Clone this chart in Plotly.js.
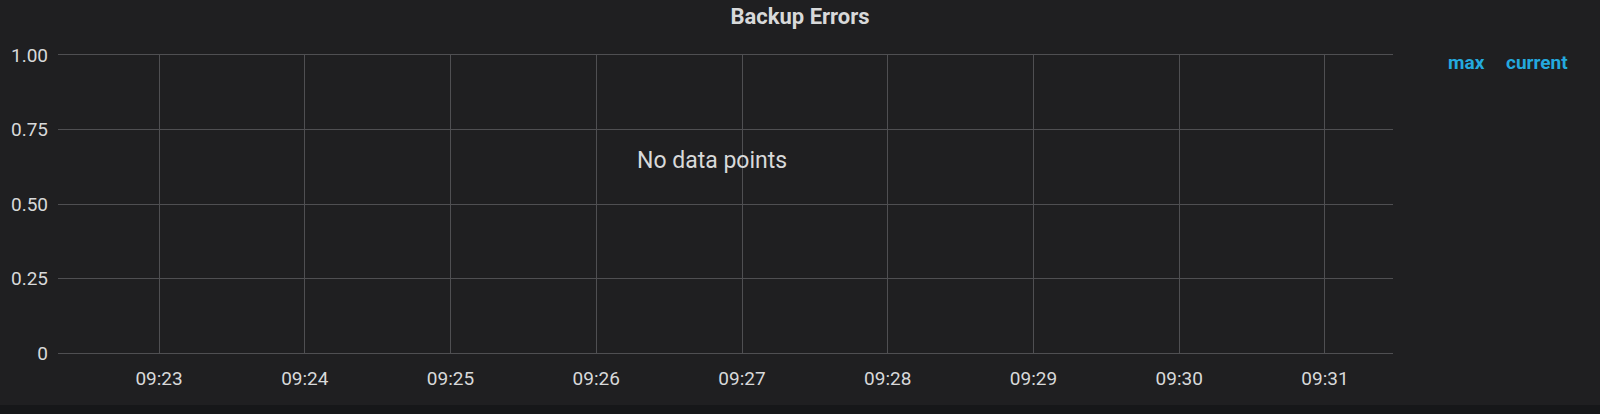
<!DOCTYPE html>
<html>
<head>
<meta charset="utf-8">
<script src="https://cdn.plot.ly/plotly-3.0.1.min.js"></script>
<style>
  html, body { margin: 0; padding: 0; background: #161719; }
  #chart { width: 1600px; height: 405px; }
</style>
</head>
<body>
<div id="chart"></div>
<script>
// ---- data ----
const chartTitle = "Backup Errors";
const seriesTimes = [];      // no data points in this panel
const seriesValues = [];
const xRange = ["2024-01-01 09:22:18.4", "2024-01-01 09:31:28"];
const xTickVals = ["2024-01-01 09:23", "2024-01-01 09:24", "2024-01-01 09:25", "2024-01-01 09:26",
                   "2024-01-01 09:27", "2024-01-01 09:28", "2024-01-01 09:29", "2024-01-01 09:30",
                   "2024-01-01 09:31"];
const xTickText = ["09:23", "09:24", "09:25", "09:26", "09:27", "09:28", "09:29", "09:30", "09:31"];
const yTickVals = [0, 0.25, 0.5, 0.75, 1];
const yTickText = ["0", "0.25", "0.50", "0.75", "1.00"];
const legendHeaders = ["max", "current"];
const emptyMessage = "No data points";

const bg = "#1f1f21";
const grid = "#4f4f52";
const textCol = "#d8d9da";
const legendCol = "#24a9de";

const data = [{
  type: "scatter",
  mode: "lines",
  x: seriesTimes,
  y: seriesValues,
  showlegend: false,
  line: { color: "#7eb26d" }
}];

const layout = {
  width: 1600,
  height: 405,
  paper_bgcolor: bg,
  plot_bgcolor: bg,
  margin: { l: 58, r: 207, t: 55, b: 52 },
  font: { family: "Roboto, 'Open Sans', sans-serif", color: textCol, size: 19 },
  title: {
    text: chartTitle,
    x: 0.5, xref: "container", xanchor: "center",
    y: 1 - 16 / 405, yref: "container", yanchor: "middle",
    font: { family: "Roboto, sans-serif", size: 22, color: textCol, weight: "bold" }
  },
  xaxis: {
    type: "date",
    range: xRange,
    tickmode: "array",
    tickvals: xTickVals,
    ticktext: xTickText,
    showgrid: true,
    gridcolor: grid,
    gridwidth: 1,
    zeroline: false,
    showline: true,
    mirror: true,
    linecolor: grid,
    linewidth: 1,
    ticks: "",
    ticklabelstandoff: 8,
    tickfont: { size: 19, color: textCol },
    fixedrange: true
  },
  yaxis: {
    range: [0, 1],
    tickmode: "array",
    tickvals: yTickVals,
    ticktext: yTickText,
    showgrid: true,
    gridcolor: grid,
    gridwidth: 1,
    zeroline: false,
    showline: false,
    ticks: "",
    ticklabelstandoff: 9,
    tickfont: { size: 19, color: textCol },
    fixedrange: true
  },
  annotations: [
    {
      text: emptyMessage, xref: "paper", yref: "paper",
      x: (712 - 58) / 1335, y: (353 - 160) / 298,
      xanchor: "center", yanchor: "middle", showarrow: false,
      font: { size: 23, color: textCol }
    },
    {
      text: legendHeaders[0], xref: "paper", yref: "paper",
      x: (1466.5 - 58) / 1335, y: (353 - 63) / 298,
      xanchor: "center", yanchor: "middle", showarrow: false,
      font: { size: 19, color: legendCol, weight: "bold" }
    },
    {
      text: legendHeaders[1], xref: "paper", yref: "paper",
      x: (1537 - 58) / 1335, y: (353 - 63) / 298,
      xanchor: "center", yanchor: "middle", showarrow: false,
      font: { size: 19, color: legendCol, weight: "bold" }
    }
  ]
};

Plotly.newPlot("chart", data, layout, { displayModeBar: false, staticPlot: true });
</script>
</body>
</html>
